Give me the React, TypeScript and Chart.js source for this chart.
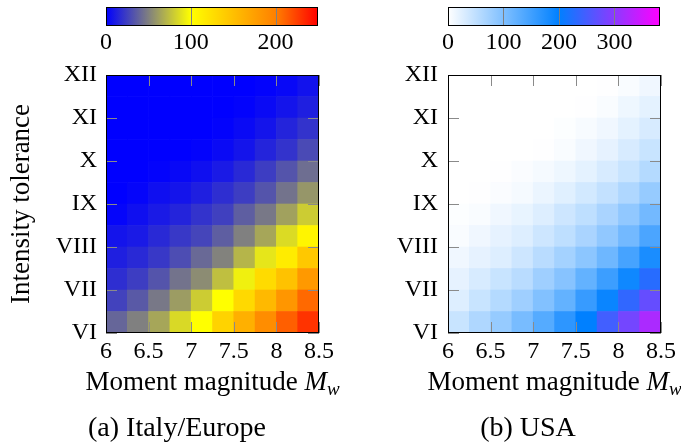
import React, { useEffect, useRef } from "react";
import { Chart, registerables } from "chart.js";

Chart.register(...registerables);

const FONT = "'Liberation Serif', 'Times New Roman', serif";

// ---- data ----
const mwCenters = [6.125, 6.375, 6.625, 6.875, 7.125, 7.375, 7.625, 7.875, 8.125, 8.375];
const intensityLows = [6, 6.5, 7, 7.5, 8, 8.5, 9, 9.5, 10, 10.5, 11, 11.5];
const cellSpan = 0.5;

const xTicks = [6, 6.5, 7, 7.5, 8, 8.5];
const xTickLabels = ["6", "6.5", "7", "7.5", "8", "8.5"];
const yTicks = [6, 7, 8, 9, 10, 11, 12];
const yTickLabels = ["VI", "VII", "VIII", "IX", "X", "XI", "XII"];

// rows from intensity VI (bottom) upward, columns Mw 6.0 -> 8.5
const italyValues = [
  [40, 50, 65, 85, 100, 135, 162, 190, 213, 230],
  [26, 35, 47, 61, 80, 100, 130, 155, 183, 209],
  [18, 24, 33, 45, 55, 75, 94, 128, 148, 180],
  [12, 16, 22, 30, 41, 51, 71, 90, 115, 143],
  [8, 10, 16, 22, 27, 37, 50, 65, 86, 108],
  [2, 6, 10, 14, 20, 25, 37, 47, 63, 80],
  [0, 2, 6, 8, 12, 18, 24, 33, 45, 59],
  [0, 0, 1, 3, 6, 10, 16, 24, 33, 43],
  [0, 0, 0, 0, 1, 4, 8, 14, 20, 29],
  [0, 0, 0, 0, 0, 1, 4, 8, 14, 20],
  [0, 0, 0, 0, 0, 0, 1, 4, 8, 12],
  [0, 0, 0, 0, 0, 0, 0, 1, 3, 7],
];

const usaValues = [
  [43, 63, 82, 106, 133, 165, 200, 247, 283, 322],
  [27, 43, 59, 75, 98, 122, 157, 192, 235, 272],
  [20, 31, 43, 55, 75, 94, 122, 153, 188, 228],
  [12, 20, 27, 39, 55, 71, 90, 114, 145, 180],
  [5, 12, 20, 27, 39, 51, 67, 86, 110, 141],
  [2, 5, 12, 18, 27, 39, 51, 67, 86, 110],
  [0, 1, 4, 8, 16, 24, 35, 47, 63, 82],
  [0, 0, 1, 4, 8, 13, 21, 31, 43, 59],
  [0, 0, 0, 0, 1, 5, 12, 20, 31, 43],
  [0, 0, 0, 0, 0, 2, 6, 12, 21, 31],
  [0, 0, 0, 0, 0, 0, 1, 5, 13, 21],
  [0, 0, 0, 0, 0, 0, 0, 1, 5, 12],
];

const italyBarTicks = [0, 100, 200];
const italyBarMax = 250;
const usaBarTicks = [0, 100, 200, 300];
const usaBarMax = 382;

type RGB = [number, number, number];
type Stop = [number, RGB];

const italyColormap: Stop[] = [
  [0, [0, 0, 255]],
  [100, [255, 255, 0]],
  [200, [255, 128, 0]],
  [250, [255, 0, 0]],
];
const usaColormap: Stop[] = [
  [0, [255, 255, 255]],
  [200, [0, 128, 255]],
  [382, [255, 0, 255]],
];

const rgb = (c: number[]) =>
  `rgb(${Math.round(c[0])},${Math.round(c[1])},${Math.round(c[2])})`;

function colorFor(v: number, map: Stop[]): string {
  if (v <= map[0][0]) return rgb(map[0][1]);
  for (let i = 1; i < map.length; i++) {
    const [v0, c0] = map[i - 1];
    const [v1, c1] = map[i];
    if (v <= v1) {
      const t = (v - v0) / (v1 - v0);
      return rgb(c0.map((a, k) => a + (c1[k] - a) * t));
    }
  }
  return rgb(map[map.length - 1][1]);
}

// ---- heatmap chart ----
const TICK_LEN = 11;

function heatDecor(caption: string, captionX: number) {
  return {
    id: "heatDecor",
    afterDatasetsDraw(chart: any) {
      const { ctx, chartArea: a, scales } = chart;
      const x = scales.x;
      const y = scales.y;
      ctx.save();
      ctx.strokeStyle = "#8a8a8a";
      ctx.lineWidth = 1;
      ctx.beginPath();
      xTicks.forEach((v) => {
        const px = Math.round(x.getPixelForValue(v)) + 0.5;
        ctx.moveTo(px, a.bottom);
        ctx.lineTo(px, a.bottom - TICK_LEN);
        ctx.moveTo(px, a.top);
        ctx.lineTo(px, a.top + TICK_LEN);
      });
      yTicks.forEach((v) => {
        const py = Math.round(y.getPixelForValue(v)) + 0.5;
        ctx.moveTo(a.left, py);
        ctx.lineTo(a.left + TICK_LEN, py);
        ctx.moveTo(a.right, py);
        ctx.lineTo(a.right - TICK_LEN, py);
      });
      ctx.stroke();
      const x0 = Math.round(a.left);
      const x1 = Math.round(a.right);
      const y0 = Math.round(a.top);
      const y1 = Math.round(a.bottom);
      ctx.strokeStyle = "#000";
      ctx.lineWidth = 1;
      ctx.strokeRect(x0 + 0.5, y0 + 0.5, x1 - x0 - 1, y1 - y0 - 1);
      ctx.restore();
    },
    afterDraw(chart: any) {
      const { ctx, chartArea: a, scales } = chart;
      ctx.save();
      ctx.fillStyle = "#000";
      ctx.textBaseline = "alphabetic";
      // x axis title: Moment magnitude M_w
      const parts = [
        { t: "Moment magnitude ", f: `27px ${FONT}`, dy: 0 },
        { t: "M", f: `italic 27px ${FONT}`, dy: 0 },
        { t: "w", f: `italic 19px ${FONT}`, dy: 5 },
      ];
      let total = 0;
      parts.forEach((p) => {
        ctx.font = p.f;
        total += ctx.measureText(p.t).width;
      });
      let cx = (a.left + a.right) / 2 - total / 2;
      const base = scales.x.top + 57;
      ctx.textAlign = "left";
      parts.forEach((p) => {
        ctx.font = p.f;
        ctx.fillText(p.t, cx, base + p.dy);
        cx += ctx.measureText(p.t).width;
      });
      // caption
      ctx.font = `28px ${FONT}`;
      ctx.textAlign = "center";
      ctx.fillText(caption, captionX, chart.height - 6);
      ctx.restore();
    },
  };
}

function heatmapConfig(p: any) {
  const datasets = intensityLows.map((lo, r) => ({
    data: mwCenters.map((mw) => ({ x: mw, y: [lo, lo + cellSpan] })),
    backgroundColor: mwCenters.map((_, c) => colorFor(p.values[r][c], p.cmap)),
    borderWidth: 0,
    barPercentage: 1,
    categoryPercentage: 1,
    grouped: false,
  }));
  return {
    type: "bar",
    data: { datasets },
    options: {
      animation: false,
      responsive: false,
      devicePixelRatio: 1,
      events: [],
      layout: { padding: { left: 0, right: p.padRight, top: 75, bottom: 0 } },
      plugins: {
        legend: { display: false },
        tooltip: { enabled: false },
        title: { display: false },
      },
      scales: {
        x: {
          type: "linear",
          min: 6,
          max: 8.5,
          offset: false,
          position: "bottom",
          afterBuildTicks: (s: any) => {
            s.ticks = xTicks.map((v) => ({ value: v }));
          },
          afterFit: (s: any) => {
            s.height = 109;
          },
          grid: { display: false, drawTicks: false, offset: false },
          border: { display: false },
          ticks: {
            padding: 4,
            color: "#000",
            autoSkip: false,
            maxRotation: 0,
            font: { family: FONT, size: 24 },
            callback: (v: any) => xTickLabels[xTicks.indexOf(Number(v))],
          },
        },
        y: {
          type: "linear",
          min: 6,
          max: 12,
          afterBuildTicks: (s: any) => {
            s.ticks = yTicks.map((v) => ({ value: v }));
          },
          afterFit: (s: any) => {
            s.width = p.yAxisWidth;
          },
          grid: { display: false, drawTicks: false },
          border: { display: false },
          ticks: {
            padding: p.yLabelPad,
            color: "#000",
            autoSkip: false,
            font: { family: FONT, size: 24 },
            callback: (v: any) => yTickLabels[yTicks.indexOf(Number(v))],
          },
          title: {
            display: !!p.yTitle,
            text: p.yTitle,
            color: "#000",
            font: { family: FONT, size: 27 },
            padding: { top: 6, bottom: 0 },
          },
        },
      },
    },
    plugins: [heatDecor(p.caption, p.captionX)],
  };
}

// ---- colorbar chart ----
function colorbarDecor(ticks: number[]) {
  return {
    id: "cbDecor",
    afterDatasetsDraw(chart: any) {
      const { ctx, chartArea: a, scales } = chart;
      ctx.save();
      ctx.strokeStyle = "#808080";
      ctx.lineWidth = 1;
      ctx.beginPath();
      ticks.forEach((v) => {
        if (v === 0) return;
        const px = Math.round(scales.x.getPixelForValue(v)) + 0.5;
        ctx.moveTo(px, a.top);
        ctx.lineTo(px, a.bottom);
      });
      ctx.stroke();
      const x0 = Math.round(a.left);
      const x1 = Math.round(a.right);
      const y0 = Math.round(a.top);
      const y1 = Math.round(a.bottom);
      ctx.strokeStyle = "#000";
      ctx.strokeRect(x0 + 0.5, y0 + 0.5, x1 - x0 - 1, y1 - y0 - 1);
      ctx.restore();
    },
  };
}

function colorbarConfig(p: any) {
  return {
    type: "bar",
    data: {
      labels: [""],
      datasets: [
        {
          data: [[0, p.max]],
          borderWidth: 0,
          barPercentage: 1,
          categoryPercentage: 1,
          backgroundColor: (c: any) => {
            const chart = c.chart;
            const xs = chart.scales && chart.scales.x;
            if (!chart.chartArea || !xs) return "#888";
            const g = chart.ctx.createLinearGradient(
              xs.getPixelForValue(0),
              0,
              xs.getPixelForValue(p.max),
              0
            );
            p.cmap.forEach(([v, col]: Stop) => g.addColorStop(v / p.max, rgb(col)));
            return g;
          },
        },
      ],
    },
    options: {
      indexAxis: "y",
      animation: false,
      responsive: false,
      devicePixelRatio: 1,
      events: [],
      layout: { padding: { left: p.padLeft, right: p.padRight, top: 7, bottom: 0 } },
      plugins: { legend: { display: false }, tooltip: { enabled: false } },
      scales: {
        x: {
          type: "linear",
          min: 0,
          max: p.max,
          position: "bottom",
          afterBuildTicks: (s: any) => {
            s.ticks = p.ticks.map((v: number) => ({ value: v }));
          },
          afterFit: (s: any) => {
            s.height = 34;
          },
          grid: { display: false, drawTicks: false },
          border: { display: false },
          ticks: {
            padding: 2,
            color: "#000",
            autoSkip: false,
            maxRotation: 0,
            font: { family: FONT, size: 24 },
          },
        },
        y: { display: false },
      },
    },
    plugins: [colorbarDecor(p.ticks)],
  };
}

function ChartCanvas({ make, left, top, width, height }: any) {
  const ref = useRef<HTMLCanvasElement>(null);
  useEffect(() => {
    const chart = new Chart(ref.current as HTMLCanvasElement, make() as any);
    return () => chart.destroy();
  }, []);
  return (
    <canvas
      ref={ref}
      width={width}
      height={height}
      style={{ position: "absolute", left, top, width, height }}
    />
  );
}

const italyPanel = {
  values: italyValues,
  cmap: italyColormap,
  yAxisWidth: 106,
  yLabelPad: 9,
  padRight: 21,
  yTitle: "Intensity tolerance",
  caption: "(a) Italy/Europe",
  captionX: 177,
};
const usaPanel = {
  values: usaValues,
  cmap: usaColormap,
  yAxisWidth: 108,
  yLabelPad: 10,
  padRight: 20,
  yTitle: "",
  caption: "(b) USA",
  captionX: 188,
};

export default function App() {
  return (
    <div
      style={{
        position: "absolute",
        left: 0,
        top: 0,
        width: 681,
        height: 442,
        background: "#fff",
        overflow: "hidden",
      }}
    >
      <ChartCanvas make={() => heatmapConfig(italyPanel)} left={0} top={0} width={340} height={442} />
      <ChartCanvas make={() => heatmapConfig(usaPanel)} left={340} top={0} width={341} height={442} />
      <ChartCanvas
        make={() =>
          colorbarConfig({ max: italyBarMax, ticks: italyBarTicks, cmap: italyColormap, padLeft: 106, padRight: 22 })
        }
        left={0}
        top={0}
        width={340}
        height={60}
      />
      <ChartCanvas
        make={() =>
          colorbarConfig({ max: usaBarMax, ticks: usaBarTicks, cmap: usaColormap, padLeft: 108, padRight: 21 })
        }
        left={340}
        top={0}
        width={341}
        height={60}
      />
    </div>
  );
}
